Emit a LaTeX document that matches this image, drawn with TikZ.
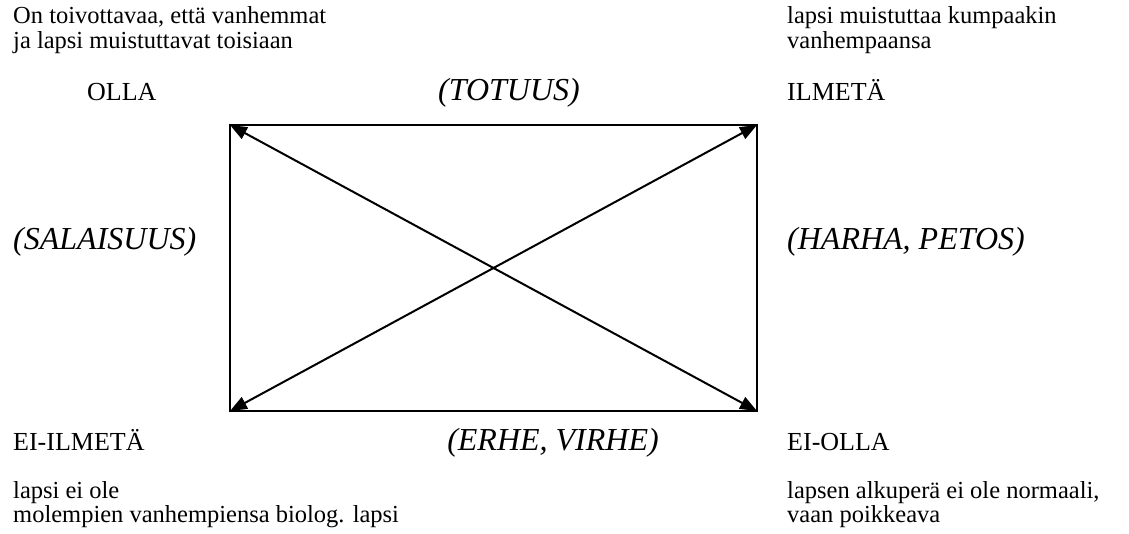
\documentclass[tikz,border=0pt]{standalone}
\usepackage{fontspec}
\setmainfont{Liberation Serif}
\usetikzlibrary{arrows.meta}
\begin{document}
\begin{tikzpicture}[x=1pt,y=-1pt,
  body/.style={anchor=base west, inner sep=0pt, text height=16pt, text depth=4pt, font=\fontsize{24.5}{24.5}\selectfont},
  caps/.style={anchor=base west, inner sep=0pt, font=\fontsize{26}{26}\selectfont},
  ital/.style={anchor=base west, inner sep=0pt, font=\fontsize{32}{32}\selectfont\itshape},
  italc/.style={anchor=base, inner sep=0pt, font=\fontsize{32}{32}\selectfont\itshape},
  frame/.style={line width=2pt},
  diag/.style={line width=2pt, {Triangle[length=17pt,width=13pt]}-{Triangle[length=17pt,width=13pt]}}]
\useasboundingbox (0,0) rectangle (1129,534);
\coordinate (TL) at (230,125);
\coordinate (TR) at (757,125);
\coordinate (BR) at (757,411);
\coordinate (BL) at (230,411);
\draw[frame] (TL) -- (TR) -- (BR) -- (BL) -- cycle;
\draw[diag] (TL) -- (BR);
\draw[diag] (BL) -- (TR);
% top left
\node[body] (tl1) at (13,24) {On toivottavaa, että vanhemmat};
\node[body] (tl2) at (13,49) {ja lapsi muistuttavat toisiaan};
\node[caps] (olla) at (87,101) {OLLA};
% top right
\node[body] (tr1) at (787,24) {lapsi muistuttaa kumpaakin};
\node[body] (tr2) at (787,49) {vanhempaansa};
\node[caps] (ilmeta) at (787,101) {ILMETÄ};
% italics
\node[italc] (totuus) at (509,101) {(TOTUUS)};
\node[ital] (salaisuus) at (13,250) {(SALAISUUS)};
\node[ital] (harha) at (787,250) {(HARHA, PETOS)};
\node[italc] (erhe) at (553,450) {(ERHE, VIRHE)};
% bottom
\node[caps] (eiilmeta) at (13,450) {EI-ILMETÄ};
\node[body] (bl1) at (13,498) {lapsi ei ole};
\node[body] (bl2) at (13,522) {molempien vanhempiensa biolog. lapsi};
\node[caps] (eiolla) at (787,450) {EI-OLLA};
\node[body] (br1) at (787,498) {lapsen alkuperä ei ole normaali,};
\node[body] (br2) at (787,522) {vaan poikkeava};
\end{tikzpicture}
\end{document}
